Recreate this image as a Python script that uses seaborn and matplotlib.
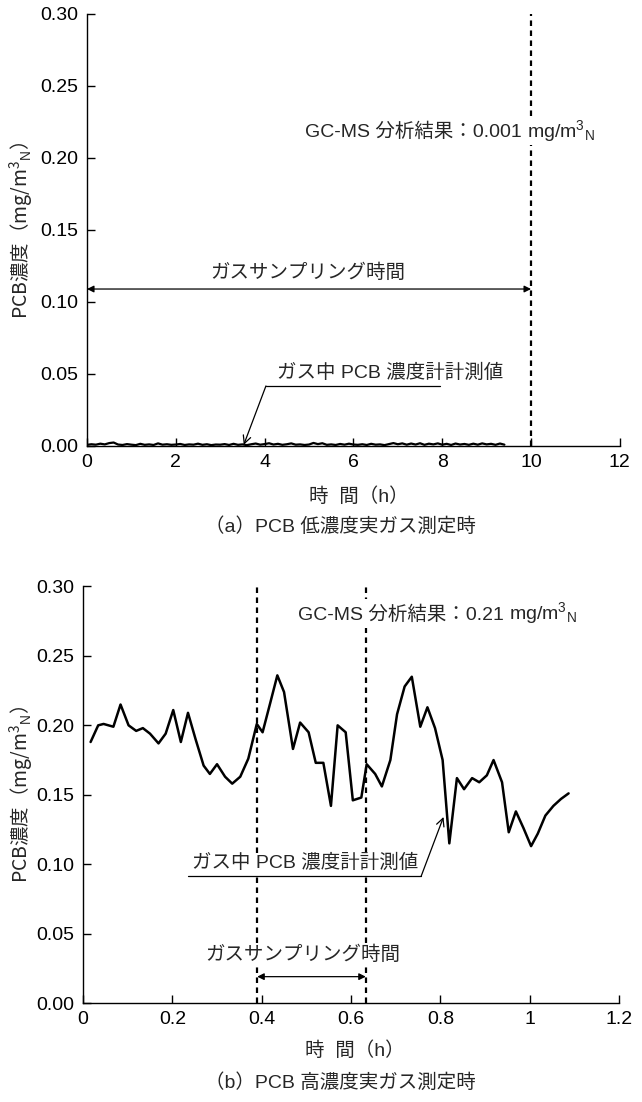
import matplotlib
matplotlib.use("Agg")
import matplotlib.pyplot as plt
import seaborn as sns
from matplotlib.offsetbox import TextArea, HPacker, AnnotationBbox

# (a) low concentration: time [h] and PCB reading [mg/m3N]
time_a = [0.0, 0.1, 0.2, 0.3, 0.4, 0.5, 0.6, 0.7, 0.8, 0.9, 1.0, 1.1, 1.2, 1.3, 1.4, 1.5,
          1.6, 1.7, 1.8, 1.9, 2.0, 2.1, 2.2, 2.3, 2.4, 2.5, 2.6, 2.7, 2.8, 2.9, 3.0, 3.1,
          3.2, 3.3, 3.4, 3.5, 3.6, 3.7, 3.8, 3.9, 4.0, 4.1, 4.2, 4.3, 4.4, 4.5, 4.6, 4.7,
          4.8, 4.9, 5.0, 5.1, 5.2, 5.3, 5.4, 5.5, 5.6, 5.7, 5.8, 5.9, 6.0, 6.1, 6.2, 6.3,
          6.4, 6.5, 6.6, 6.7, 6.8, 6.9, 7.0, 7.1, 7.2, 7.3, 7.4, 7.5, 7.6, 7.7, 7.8, 7.9,
          8.0, 8.1, 8.2, 8.3, 8.4, 8.5, 8.6, 8.7, 8.8, 8.9, 9.0, 9.1, 9.2, 9.3, 9.4]
pcb_a = [0.0008, 0.0012, 0.0009, 0.0016, 0.0011, 0.0020, 0.0024, 0.0010, 0.0007, 0.0013,
         0.0009, 0.0006, 0.0015, 0.0008, 0.0011, 0.0007, 0.0018, 0.0009, 0.0012, 0.0008,
         0.0010, 0.0014, 0.0007, 0.0011, 0.0009, 0.0016, 0.0008, 0.0012, 0.0006, 0.0010,
         0.0009, 0.0013, 0.0007, 0.0015, 0.0008, 0.0011, 0.0006, 0.0012, 0.0017, 0.0009,
         0.0013, 0.0019, 0.0010, 0.0015, 0.0008, 0.0012, 0.0018, 0.0009, 0.0011, 0.0007,
         0.0010, 0.0021, 0.0013, 0.0019, 0.0008, 0.0011, 0.0007, 0.0014, 0.0009, 0.0016,
         0.0010, 0.0008, 0.0012, 0.0007, 0.0015, 0.0009, 0.0011, 0.0006, 0.0013, 0.0020,
         0.0012, 0.0018, 0.0009, 0.0017, 0.0010, 0.0019, 0.0008, 0.0016, 0.0011, 0.0018,
         0.0009, 0.0015, 0.0007, 0.0017, 0.0010, 0.0014, 0.0008, 0.0016, 0.0009, 0.0018,
         0.0011, 0.0015, 0.0008, 0.0017, 0.0009]

# (b) high concentration
time_b = [0.017, 0.034, 0.046, 0.068, 0.084, 0.102, 0.119, 0.134, 0.150, 0.169,
          0.185, 0.202, 0.219, 0.235, 0.252, 0.270, 0.284, 0.300, 0.318, 0.334,
          0.352, 0.370, 0.389, 0.402, 0.419, 0.435, 0.450, 0.470, 0.486, 0.505,
          0.521, 0.538, 0.555, 0.570, 0.588, 0.604, 0.623, 0.635, 0.654, 0.669,
          0.688, 0.703, 0.720, 0.736, 0.755, 0.771, 0.788, 0.805, 0.820, 0.837,
          0.853, 0.871, 0.887, 0.904, 0.919, 0.938, 0.953, 0.969, 0.986, 1.003,
          1.018, 1.035, 1.053, 1.070, 1.087]
pcb_b = [0.188, 0.200, 0.201, 0.199, 0.215, 0.200, 0.196, 0.198, 0.194, 0.187,
         0.194, 0.211, 0.188, 0.209, 0.190, 0.171, 0.165, 0.172, 0.163, 0.158,
         0.163, 0.176, 0.201, 0.195, 0.216, 0.236, 0.224, 0.183, 0.202, 0.195,
         0.173, 0.173, 0.142, 0.200, 0.195, 0.146, 0.148, 0.172, 0.165, 0.156,
         0.175, 0.208, 0.228, 0.235, 0.199, 0.213, 0.198, 0.175, 0.115, 0.162,
         0.154, 0.162, 0.159, 0.164, 0.175, 0.159, 0.123, 0.138, 0.126, 0.113,
         0.122, 0.135, 0.142, 0.147, 0.151]

y_ticks = [0.00, 0.05, 0.10, 0.15, 0.20, 0.25, 0.30]
y_labels = ["0.00", "0.05", "0.10", "0.15", "0.20", "0.25", "0.30"]
x_ticks_a = [0, 2, 4, 6, 8, 10, 12]
x_labels_a = ["0", "2", "4", "6", "8", "10", "12"]
x_ticks_b = [0, 0.2, 0.4, 0.6, 0.8, 1.0, 1.2]
x_labels_b = ["0", "0.2", "0.4", "0.6", "0.8", "1", "1.2"]

sns.set_style("ticks")
JP = ["Liberation Sans", "Noto Sans CJK JP"]
plt.rcParams["font.family"] = JP
plt.rcParams["mathtext.fontset"] = "custom"
plt.rcParams["mathtext.rm"] = "Liberation Sans"
plt.rcParams["mathtext.default"] = "regular"

FS = 14
fig = plt.figure(figsize=(6.42, 11.02), dpi=100)
ax_a = fig.add_axes([0.1355, 0.5953, 0.830, 0.392])
ax_b = fig.add_axes([0.1293, 0.0898, 0.835, 0.378])

sns.lineplot(x=time_a, y=pcb_a, ax=ax_a, color="black", lw=1.6)
sns.lineplot(x=time_b, y=pcb_b, ax=ax_b, color="black", lw=1.8)

white = dict(fc="white", ec="none", pad=1)
dash = (0, (2.5, 2))


def style_axes(ax, xt, xl, xmax):
    ax.set_xlim(0, xmax)
    ax.set_ylim(0, 0.30)
    ax.set_xticks(xt)
    ax.set_xticklabels(xl)
    ax.set_yticks(y_ticks)
    ax.set_yticklabels(y_labels)
    ax.tick_params(direction="in", length=6, width=1, labelsize=FS, pad=6, colors="black")
    for s in ["top", "right"]:
        ax.spines[s].set_visible(False)
    for s in ["left", "bottom"]:
        ax.spines[s].set_color("black")
        ax.spines[s].set_linewidth(1)
    ax.set_xlabel("")
    ax.set_ylabel("")


def gcms_label(ax, x, y, value):
    left = TextArea(f"GC-MS 分析結果：{value} ", textprops=dict(fontsize=FS, family=JP))
    unit = TextArea("mg/m$^3$$_\\mathrm{N}$", textprops=dict(fontsize=FS, family="Liberation Sans"))
    pack = HPacker(children=[left, unit], align="baseline", pad=0, sep=0)
    ab = AnnotationBbox(pack, (x, y), xycoords="data", box_alignment=(0, 0.5),
                        frameon=True, pad=0.1, bboxprops=dict(fc="white", ec="none"))
    ab.set_zorder(6)
    ax.add_artist(ab)


def pointer(ax, text, tx, ty, x0, x1, yl, start, tip):
    ax.text(tx, ty, text, fontsize=FS, ha="left", va="center", bbox=white, zorder=6)
    ax.plot([x0, x1], [yl, yl], color="black", lw=0.9, zorder=6)
    ax.annotate("", xy=tip, xytext=(start, yl),
                arrowprops=dict(arrowstyle="->", lw=0.9, color="black",
                                shrinkA=0, shrinkB=0, mutation_scale=14), zorder=6)


# (a)
style_axes(ax_a, x_ticks_a, x_labels_a, 12)
ax_a.axvline(10, ymin=0, ymax=1.0, color="black", lw=1.6, ls=dash, zorder=3)
gcms_label(ax_a, 4.91, 0.219, "0.001")
ax_a.annotate("", xy=(0, 0.109), xytext=(10, 0.109),
              arrowprops=dict(arrowstyle="<|-|>", lw=0.9, color="black",
                              shrinkA=0, shrinkB=0, mutation_scale=10))
ax_a.text(4.98, 0.120, "ガスサンプリング時間", fontsize=FS, ha="center", va="center")
pointer(ax_a, "ガス中 PCB 濃度計計測値", 4.28, 0.0507, 4.03, 7.95, 0.0417, 4.03, (3.53, 0.0008))

# (b)
style_axes(ax_b, x_ticks_b, x_labels_b, 1.2)
for xv in [0.390, 0.633]:
    ax_b.axvline(xv, ymin=0, ymax=1.005, color="black", lw=1.6, ls=dash, zorder=3)
gcms_label(ax_b, 0.4815, 0.2806, "0.21")
ax_b.annotate("", xy=(0.390, 0.019), xytext=(0.633, 0.019),
              arrowprops=dict(arrowstyle="<|-|>", lw=0.9, color="black",
                              shrinkA=0, shrinkB=0, mutation_scale=10), zorder=6)
ax_b.text(0.493, 0.0345, "ガスサンプリング時間", fontsize=FS, ha="center", va="center",
          bbox=white, zorder=6)
pointer(ax_b, "ガス中 PCB 濃度計計測値", 0.244, 0.1007, 0.235, 0.757, 0.0914, 0.757, (0.807, 0.134))

# axis titles and captions
ylab = "PCB濃度（mg/m$^3$$_\\mathrm{N}$）"
fig.text(0.034, 0.791, ylab, rotation=90, ha="center", va="center", fontsize=FS,
         family="Noto Sans CJK JP")
fig.text(0.034, 0.279, ylab, rotation=90, ha="center", va="center", fontsize=FS,
         family="Noto Sans CJK JP")
fig.text(0.559, 0.549, "時  間（h）", ha="center", va="center", fontsize=FS)
fig.text(0.530, 0.522, "（a）PCB 低濃度実ガス測定時", ha="center", va="center", fontsize=FS)
fig.text(0.552, 0.047, "時  間（h）", ha="center", va="center", fontsize=FS)
fig.text(0.530, 0.018, "（b）PCB 高濃度実ガス測定時", ha="center", va="center", fontsize=FS)

fig.savefig("out.png", dpi=100, facecolor="white")
